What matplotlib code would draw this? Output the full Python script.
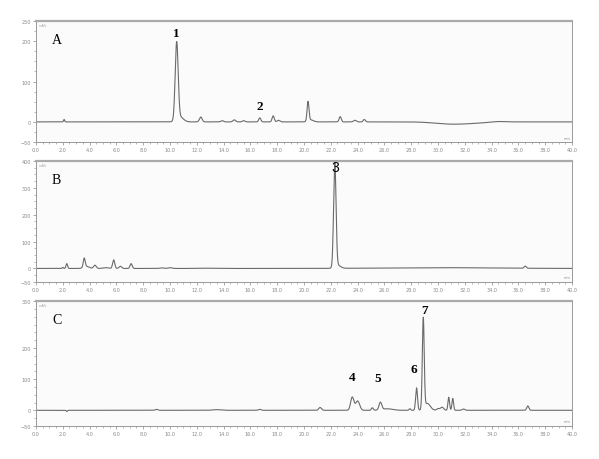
import numpy as np
import matplotlib.pyplot as plt

# Пики хроматограмм: время удерживания (мин), высота (mAU), ширина (сигма, мин)
a_times = [2.1, 10.5, 10.75, 12.3, 13.9, 14.8, 15.5, 16.7, 17.7, 18.1, 20.3, 20.5, 22.7, 23.8, 24.5, 30.5, 32.0, 34.5]
a_heights = [6, 192, 12, 12, 3, 5, 3, 10, 15, 4, 48, 5, 13, 4, 6, -3, -4, 1.5]
a_widths = [0.04, 0.11, 0.25, 0.1, 0.1, 0.1, 0.1, 0.08, 0.08, 0.1, 0.07, 0.2, 0.08, 0.1, 0.08, 1.0, 1.3, 0.5]

b_times = [2.0, 2.3, 3.6, 3.75, 4.4, 5.2, 5.8, 6.3, 7.1, 9.4, 10.0, 12.5, 22.3, 22.5, 30.0, 36.5]
b_heights = [4, 18, 33, 8, 12, 3, 32, 8, 18, 2, 3, 1, 385, 12, 3, 8]
b_widths = [0.04, 0.06, 0.07, 0.2, 0.1, 0.2, 0.08, 0.1, 0.08, 0.15, 0.15, 0.5, 0.09, 0.22, 4.0, 0.08]

c_times = [2.3, 9.0, 13.5, 16.7, 21.2, 23.6, 24.0, 25.1, 25.7, 26.2, 27.9, 28.4, 28.9, 29.2, 30.0, 30.3, 30.8, 31.1, 31.9, 36.7]
c_heights = [-4, 3, 2, 3, 9, 42, 30, 8, 24, 5, 5, 72, 290, 22, 5, 10, 42, 38, 4, 14]
c_widths = [0.04, 0.1, 0.3, 0.1, 0.1, 0.12, 0.15, 0.07, 0.1, 0.4, 0.06, 0.07, 0.07, 0.22, 0.1, 0.12, 0.06, 0.06, 0.1, 0.08]

# Подписи пиков: номер, время, высота подписи
a_labels = [('1', 10.5, 205), ('2', 16.7, 25)]
b_labels = [('3', 22.3, 350)]
c_labels = [('4', 23.6, 88), ('5', 25.5, 83), ('6', 28.2, 112), ('7', 29.0, 303)]

panels = [
    ('A', a_times, a_heights, a_widths, (-50, 250), [-50, 0, 100, 200, 250], a_labels, 'serif'),
    ('B', b_times, b_heights, b_widths, (-50, 400), [-50, 0, 100, 200, 300, 400], b_labels, 'sans-serif'),
    ('C', c_times, c_heights, c_widths, (-50, 350), [-50, 0, 100, 200, 350], c_labels, 'serif'),
]

# Положение осей на рисунке (доли)
boxes = [
    [0.060, 0.689, 0.895, 0.263],
    [0.060, 0.385, 0.895, 0.263],
    [0.060, 0.072, 0.895, 0.271],
]

t = np.linspace(0, 40, 8001)

fig = plt.figure(figsize=(5.99, 4.6), dpi=100)

for (name, times, heights, widths, ylim, yticks, labels, lab_font), box in zip(panels, boxes):
    ax = fig.add_axes(box)
    ax.set_facecolor('#fbfbfb')

    # Сумма гауссовых пиков
    y = np.zeros_like(t)
    for t0, h, w in zip(times, heights, widths):
        y += h * np.exp(-0.5 * ((t - t0) / w) ** 2)
    ax.plot(t, y, color='#6a6a6a', lw=0.8)

    ax.set_xlim(0, 40)
    ax.set_ylim(*ylim)
    ax.set_xticks(np.arange(0, 41, 2))
    ax.set_xticklabels(['%.1f' % v for v in np.arange(0, 41, 2)])
    ax.set_xticks(np.arange(0, 40.1, 0.5), minor=True)
    ax.set_yticks(yticks)
    ax.set_yticks(np.arange(ylim[0], ylim[1] + 1, 25), minor=True)
    ax.tick_params(axis='both', which='major', labelsize=3.5, colors='#888888',
                   length=2, width=0.5, pad=1.5)
    ax.tick_params(axis='both', which='minor', length=1.2, width=0.4, colors='#888888')

    for side in ['left', 'bottom', 'right']:
        ax.spines[side].set_color('#999999')
        ax.spines[side].set_linewidth(0.7)
    ax.spines['top'].set_color('#aaaaaa')
    ax.spines['top'].set_linewidth(1.6)

    ax.text(0.005, 0.985, 'mAU', transform=ax.transAxes, fontsize=2.5,
            color='#aaaaaa', va='top', ha='left')
    ax.text(0.997, 0.02, 'min', transform=ax.transAxes, fontsize=2.5,
            color='#888888', va='bottom', ha='right')

    # Буква панели
    ax.text(1.2, ylim[1] - (ylim[1] - ylim[0]) * 0.15, name, fontsize=10,
            family='Liberation Serif', va='center', ha='left')

    # Номера пиков
    for txt, x, yy in labels:
        if lab_font == 'serif':
            ax.text(x, yy, txt, fontsize=9.5, family='Liberation Serif',
                    fontweight='bold', ha='center', va='bottom')
        else:
            ax.text(x, yy, txt, fontsize=10, family='Liberation Sans',
                    ha='center', va='bottom')

plt.savefig('out.png', dpi=100)
